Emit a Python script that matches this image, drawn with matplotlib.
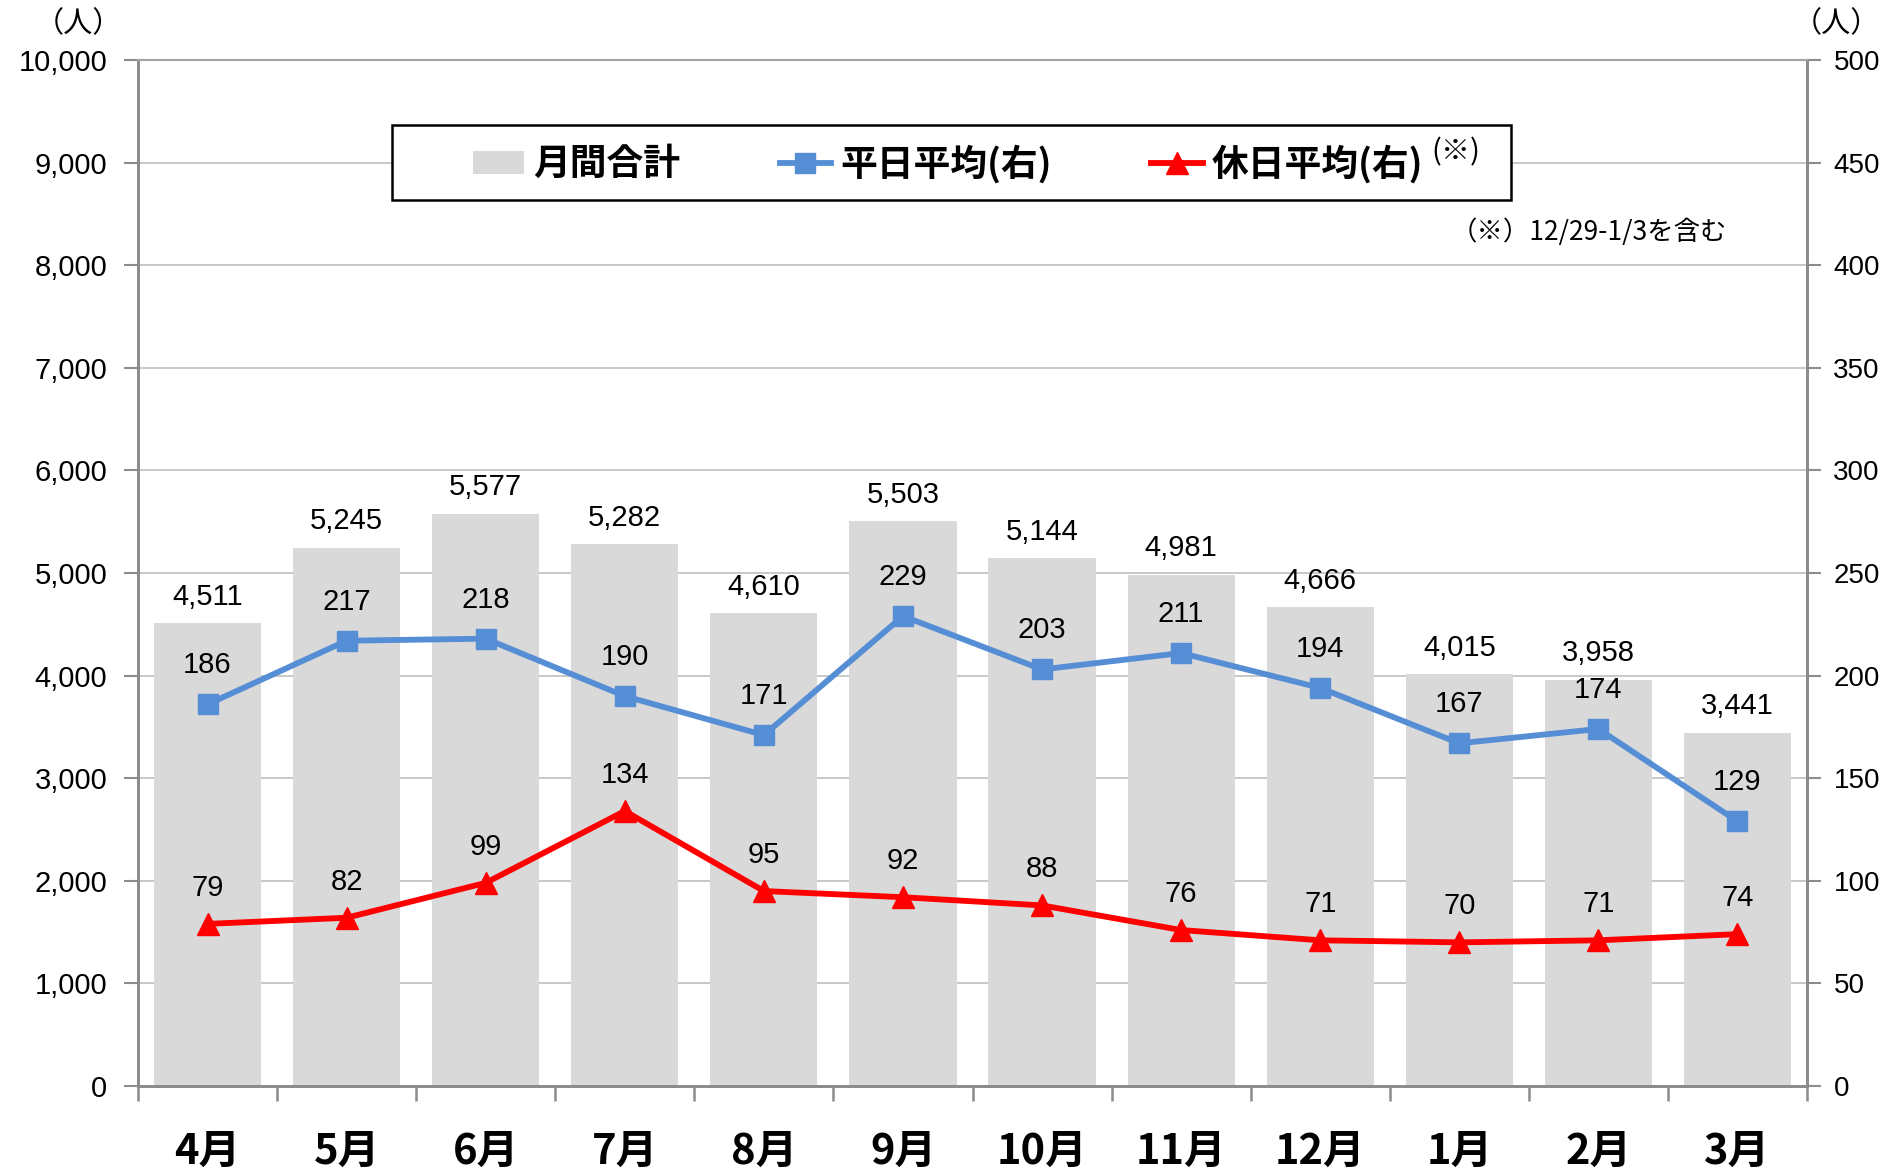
import matplotlib.pyplot as plt
from matplotlib.patches import Patch, Rectangle
from matplotlib.lines import Line2D
import numpy as np

plt.rcParams['font.family'] = ['Liberation Sans', 'Noto Sans CJK JP', 'DejaVu Sans']

months = ['4月', '5月', '6月', '7月', '8月', '9月', '10月', '11月', '12月', '1月', '2月', '3月']
monthly_total = [4511, 5245, 5577, 5282, 4610, 5503, 5144, 4981, 4666, 4015, 3958, 3441]
weekday_avg = [186, 217, 218, 190, 171, 229, 203, 211, 194, 167, 174, 129]
holiday_avg = [79, 82, 99, 134, 95, 92, 88, 76, 71, 70, 71, 74]

bar_color = '#D9D9D9'
blue = '#558ED5'
red = '#FF0000'
axis_gray = '#8C8C8C'
cjk = ['Noto Sans CJK JP', 'DejaVu Sans']

fig = plt.figure(figsize=(18.85, 11.70), dpi=100)
ax = fig.add_axes([138 / 1885, 1 - 1086 / 1170, (1807 - 138) / 1885, (1086 - 60) / 1170])
ax2 = ax.twinx()

x = np.arange(len(months))

# bars (left axis)
ax.bar(x, monthly_total, width=0.77, color=bar_color, zorder=2)
for xi, v in zip(x, monthly_total):
    ax.annotate(f'{v:,}', (xi, v), xytext=(0, 9), textcoords='offset points',
                ha='center', va='bottom', fontsize=21, color='black')

ax.set_ylim(0, 10000)
ax.set_yticks(range(0, 10001, 1000))
ax.set_yticklabels([f'{v:,}' for v in range(0, 10001, 1000)], fontsize=21)
ax.set_xlim(-0.5, len(months) - 0.5)
ax.yaxis.grid(True, color='#BFBFBF', linewidth=1.2, zorder=0)
ax.set_axisbelow(True)

# lines (right axis)
ax2.plot(x, weekday_avg, color=blue, linewidth=4.2, marker='s', markersize=15, zorder=5)
ax2.plot(x, holiday_avg, color=red, linewidth=4.2, marker='^', markersize=16, zorder=5)
for xi, v in zip(x, weekday_avg):
    ax2.annotate(str(v), (xi, v), xytext=(0, 18), textcoords='offset points',
                 ha='center', va='bottom', fontsize=21)
for xi, v in zip(x, holiday_avg):
    ax2.annotate(str(v), (xi, v), xytext=(0, 16), textcoords='offset points',
                 ha='center', va='bottom', fontsize=21)
ax2.set_ylim(0, 500)
ax2.set_yticks(range(0, 501, 50))
ax2.tick_params(axis='y', labelsize=20)

# x ticks: labels at centers, tick marks at boundaries
ax.set_xticks(x)
ax.set_xticklabels(months, fontsize=30, fontweight='bold', family=cjk)
ax.set_xticks(np.arange(-0.5, len(months)), minor=True)
ax.tick_params(axis='x', which='major', length=0, pad=32)
ax.tick_params(axis='x', which='minor', length=11, width=1.8, color=axis_gray, direction='out')
ax.tick_params(axis='y', length=10, width=1.5, color=axis_gray, pad=12)
ax2.tick_params(axis='y', length=10, width=1.5, color=axis_gray, pad=9)

for a in (ax, ax2):
    for side in ('left', 'right', 'bottom'):
        a.spines[side].set_color(axis_gray)
        a.spines[side].set_linewidth(2)
    a.spines['top'].set_color('#A6A6A6')
    a.spines['top'].set_linewidth(1.5)

# unit labels
fig.text(78 / 1885, 1 - 24 / 1170, '（人）', ha='center', va='center', fontsize=21, family=cjk)
fig.text(1836 / 1885, 1 - 24 / 1170, '（人）', ha='center', va='center', fontsize=21, family=cjk)

# legend box drawn separately, legend itself frameless
fig.patches.append(Rectangle((392 / 1885, 1 - 200 / 1170), (1511 - 392) / 1885, 75 / 1170,
                             transform=fig.transFigure, facecolor='white', edgecolor='black',
                             linewidth=1.8, zorder=9))
handles = [
    Patch(facecolor=bar_color, edgecolor='none'),
    Line2D([], [], color=blue, linewidth=4.2, marker='s', markersize=15),
    Line2D([], [], color=red, linewidth=4.2, marker='^', markersize=16),
]
labels = ['月間合計', '平日平均(右)', '休日平均(右)']
leg = fig.legend(handles, labels, ncol=3, loc='center',
                 bbox_to_anchor=(948 / 1885, 1 - 164 / 1170),
                 prop={'family': cjk, 'size': 26.5, 'weight': 'bold'},
                 frameon=False, handlelength=1.4, handleheight=0.6,
                 handletextpad=0.25, columnspacing=2.7)
leg.set_zorder(10)
fig.text(1456 / 1885, 1 - 152 / 1170, '(※)', ha='center', va='center', fontsize=21,
         family=cjk, zorder=11)

# footnote
fig.text(1589 / 1885, 1 - 232 / 1170, '（※）12/29-1/3を含む', ha='center', va='center',
         fontsize=19, family=cjk)

fig.savefig('out.png', dpi=100)
